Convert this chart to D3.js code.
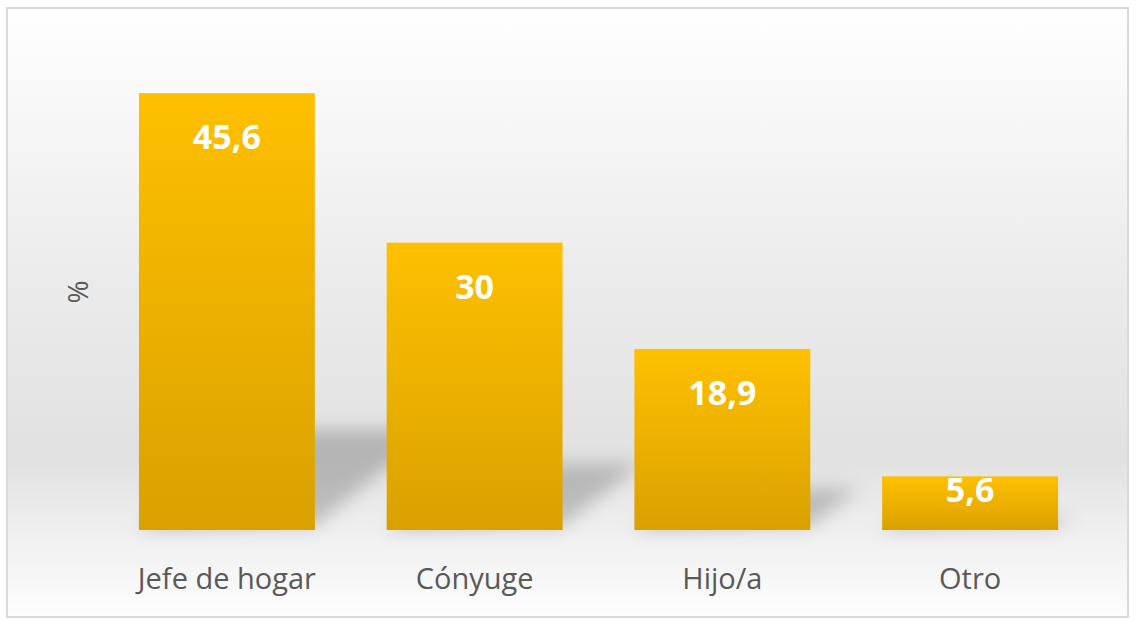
<!DOCTYPE html>
<html>
<head>
<meta charset="utf-8">
<script src="https://cdn.jsdelivr.net/npm/d3@7"></script>
<style>
  body { margin: 0; background: #fff; }
  text { font-family: "Open Sans", "Liberation Sans", sans-serif; }
</style>
</head>
<body>
<svg width="1136" height="619"></svg>
<script>
var categories = ["Jefe de hogar", "Cónyuge", "Hijo/a", "Otro"];
var values = [45.6, 30, 18.9, 5.6];
var valueLabels = ["45,6", "30", "18,9", "5,6"];

var svg = d3.select("svg"),
    width = +svg.attr("width"),
    height = +svg.attr("height");

var defs = svg.append("defs");

// background gradient: white -> light gray -> white
var bg = defs.append("linearGradient")
    .attr("id", "bg")
    .attr("gradientUnits", "userSpaceOnUse")
    .attr("x1", 0).attr("y1", 8).attr("x2", 0).attr("y2", 617);
bg.append("stop").attr("offset", "0%").attr("stop-color", "#ffffff");
bg.append("stop").attr("offset", "45%").attr("stop-color", "#ebebeb");
bg.append("stop").attr("offset", "74%").attr("stop-color", "#e1e1e1");
bg.append("stop").attr("offset", "86%").attr("stop-color", "#efefef");
bg.append("stop").attr("offset", "100%").attr("stop-color", "#fdfdfd");

var barGrad = defs.append("linearGradient")
    .attr("id", "barGrad")
    .attr("x1", 0).attr("y1", 0).attr("x2", 0).attr("y2", 1);
barGrad.append("stop").attr("offset", "0%").attr("stop-color", "#ffc000");
barGrad.append("stop").attr("offset", "100%").attr("stop-color", "#d9a100");

defs.append("filter")
    .attr("id", "blur")
    .attr("x", "-50%").attr("y", "-50%").attr("width", "200%").attr("height", "200%")
  .append("feGaussianBlur")
    .attr("stdDeviation", 9);

svg.append("rect")
    .attr("x", 7).attr("y", 8)
    .attr("width", 1121).attr("height", 609)
    .attr("fill", "url(#bg)")
    .attr("stroke", "#d9d9d9")
    .attr("stroke-width", 2);

var x = d3.scaleBand()
    .domain(categories)
    .range([103, 1094])
    .paddingInner(0.29)
    .paddingOuter(0.145);

var y = d3.scaleLinear()
    .domain([0, 50])
    .range([530, 51]);

var data = categories.map(function(c, i) {
  return { cat: c, value: values[i], label: valueLabels[i] };
});

// perspective shadows behind the bars
svg.append("g")
    .attr("filter", "url(#blur)")
  .selectAll("polygon")
  .data(data)
  .enter().append("polygon")
    .attr("points", function(d) {
      var x0 = x(d.cat), x1 = x0 + x.bandwidth(), b = y(0);
      var h = y(0) - y(d.value);
      var dx = h * 0.27, dy = h * 0.23;
      return [[x0, b], [x1, b - 4], [x1 + dx, b - dy], [x0 + dx, b - dy]]
        .map(function(p) { return p.join(","); }).join(" ");
    })
    .attr("fill", "#000")
    .attr("fill-opacity", 0.2);

svg.append("g")
  .selectAll("rect")
  .data(data)
  .enter().append("rect")
    .attr("x", function(d) { return x(d.cat); })
    .attr("y", function(d) { return y(d.value); })
    .attr("width", x.bandwidth())
    .attr("height", function(d) { return y(0) - y(d.value); })
    .attr("fill", "url(#barGrad)");

svg.append("g")
  .selectAll("text")
  .data(data)
  .enter().append("text")
    .attr("x", function(d) { return x(d.cat) + x.bandwidth() / 2; })
    .attr("y", function(d) {
      var h = y(0) - y(d.value);
      return y(d.value) + Math.min(56, h * 0.48);
    })
    .attr("text-anchor", "middle")
    .style("fill", "#ffffff")
    .style("font-weight", "bold")
    .style("font-size", "34px")
    .text(function(d) { return d.label; });

var xAxis = svg.append("g")
    .attr("transform", "translate(0," + y(0) + ")")
    .call(d3.axisBottom(x).tickSize(0).tickPadding(38));
xAxis.select(".domain").remove();
xAxis.selectAll("text")
    .style("fill", "#595959")
    .style("font-size", "29px")
    .style("font-family", "\"Open Sans\", sans-serif");

svg.append("text")
    .attr("transform", "translate(88,292) rotate(-90)")
    .attr("text-anchor", "middle")
    .style("fill", "#595959")
    .style("font-size", "28px")
    .text("%");
</script>
</body>
</html>
